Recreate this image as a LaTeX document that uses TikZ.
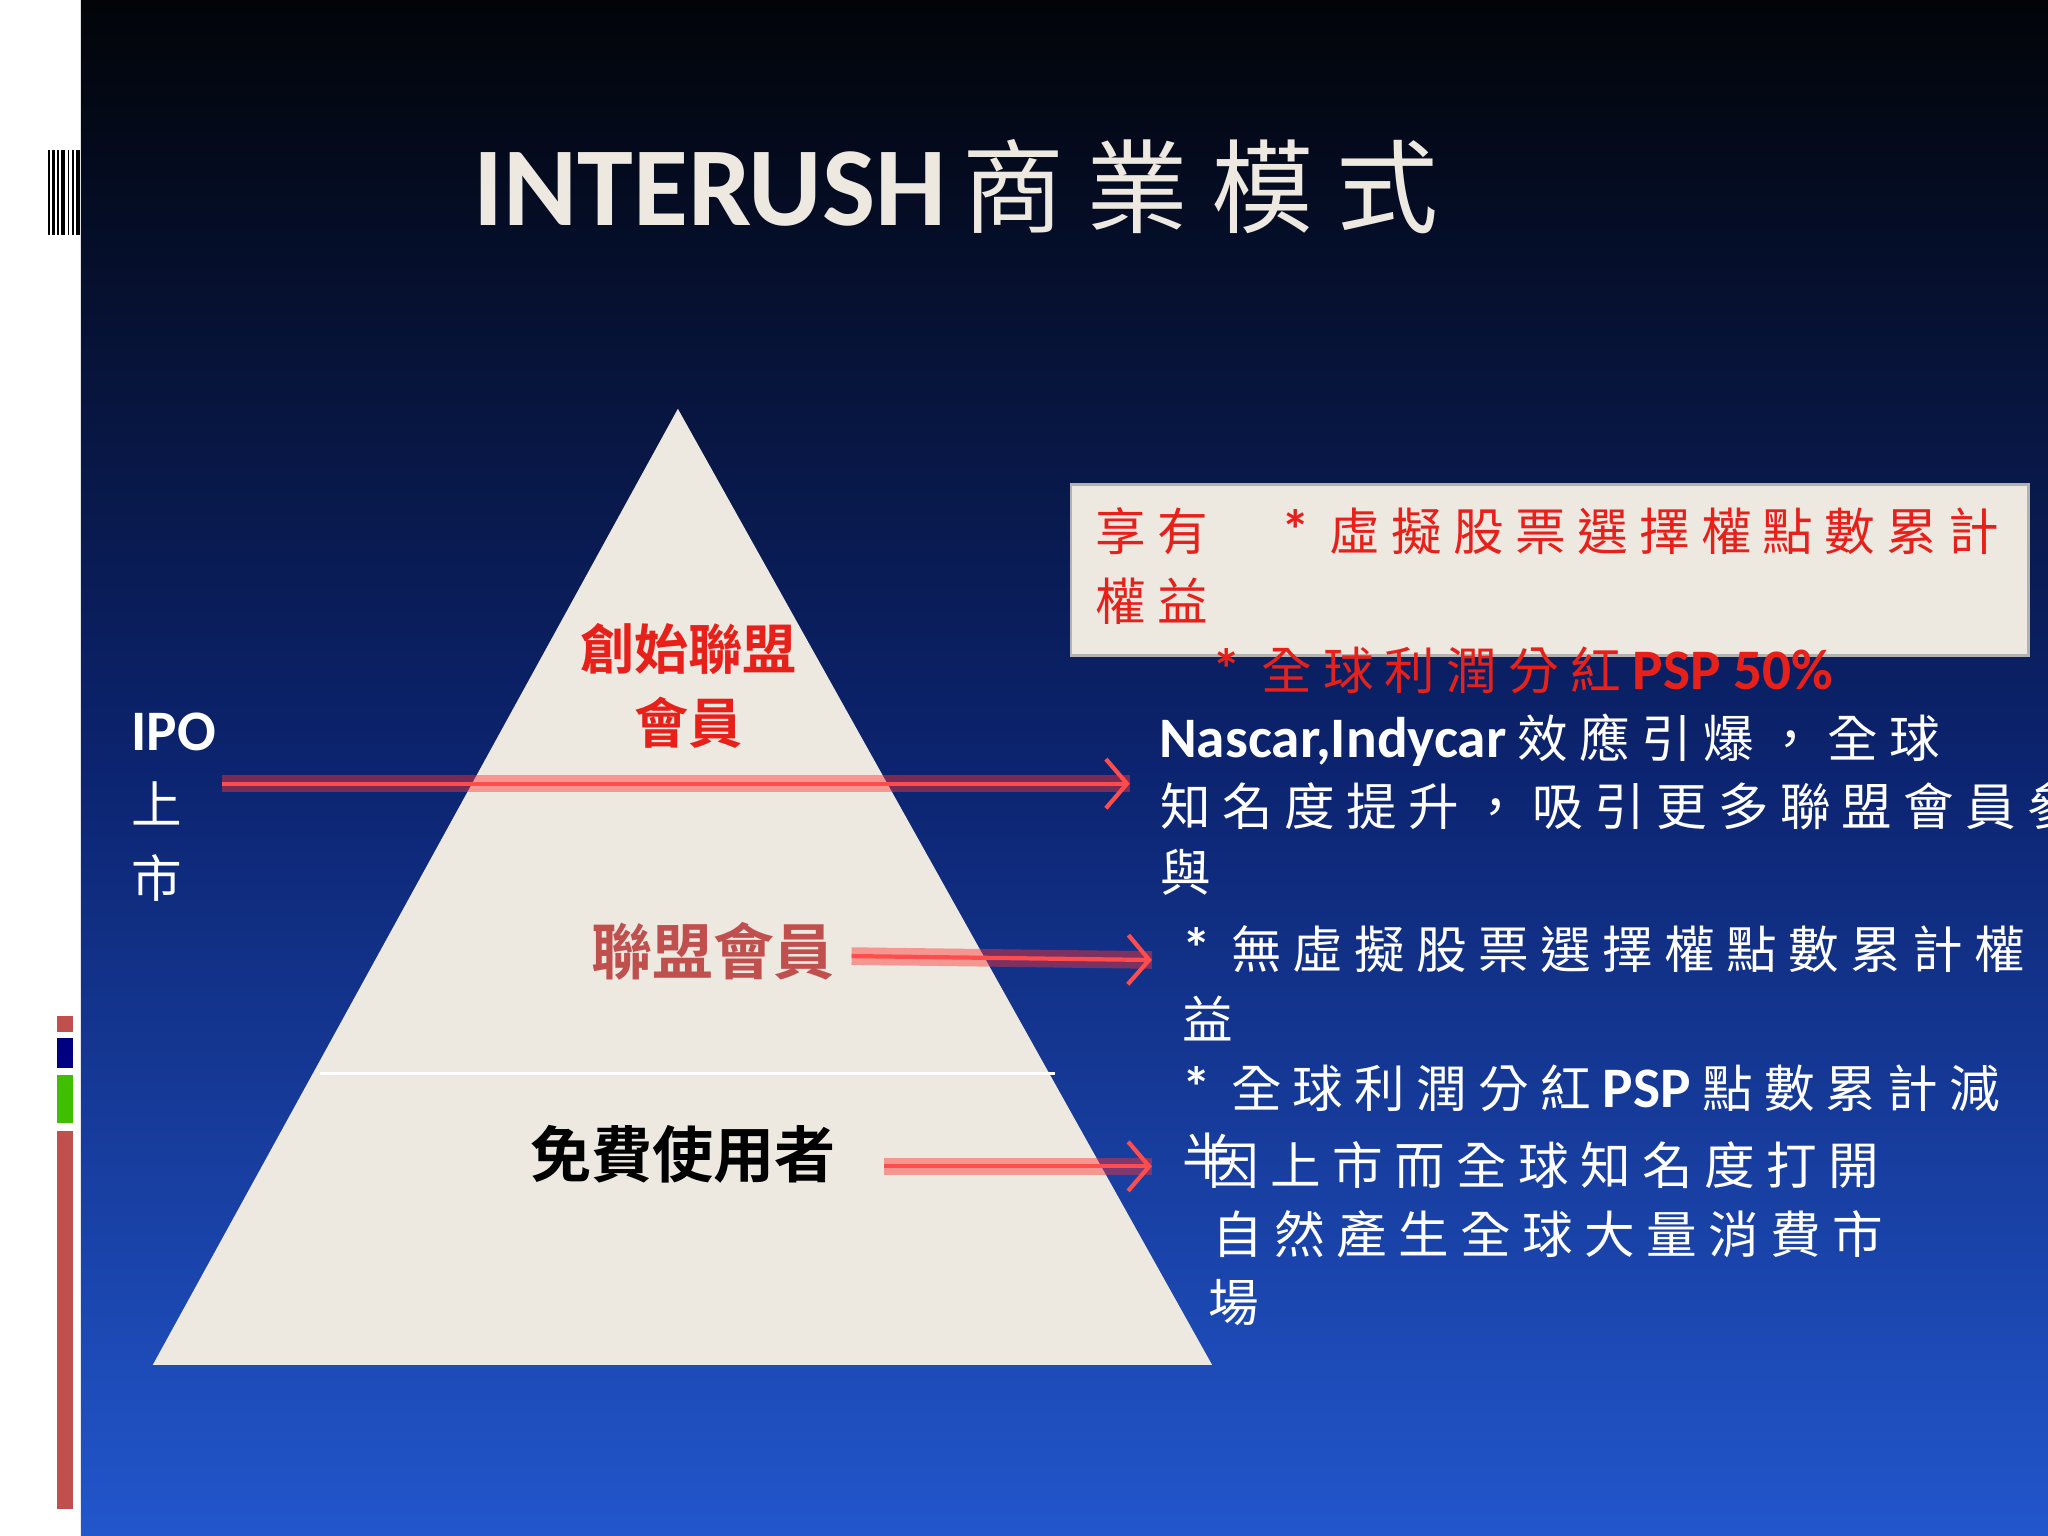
\documentclass[tikz,border=0pt]{standalone}
\usepackage{fontspec}
\newfontfamily\cjk{Noto Sans CJK TC}
\newfontfamily\cjkb{Noto Sans CJK TC Bold}
\newfontfamily\lat{Carlito}
\usetikzlibrary{arrows.meta}
\definecolor{pyr}{HTML}{EDE8E0}
\definecolor{redA}{HTML}{E8201A}
\definecolor{redB}{HTML}{C0504D}
\definecolor{bluetop}{HTML}{020408}
\definecolor{bluemid}{HTML}{0C2470}
\definecolor{bluebot}{HTML}{2256CC}
\newcommand{\LB}[1]{{\lat\bfseries\fontsize{16.3}{18}\selectfont #1}}
\tikzset{
 wtxt/.style={anchor=west,inner sep=0pt,text=white,font=\cjk\fontsize{14.4}{18}\selectfont},
 rtxt/.style={anchor=west,inner sep=0pt,text=redA,font=\cjk\fontsize{14.4}{18}\selectfont},
 glow/.style={line width=5pt,red!80,opacity=0.45},
 arr/.style={line width=1.2pt,{Straight Barb[length=6pt,width=14pt]}-,color=red!60!pink},
}
\begin{document}
\begin{tikzpicture}[x=0.01306cm,y=-0.01306cm]
\useasboundingbox (0,0) rectangle (1568,1176);
\clip (0,0) rectangle (1568,1176);
\fill[white] (0,0) rectangle (62,1176);
\shade[top color=bluetop,bottom color=bluebot,middle color=bluemid] (62,0) rectangle (1568,1176);
\foreach \x/\w in {37/1,40/2,44/1,47/3,52/1,55/2,58/3}{\fill[black] (\x,115) rectangle (\x+\w,180);}
\fill[redB] (44,778) rectangle (56,790);
\fill[blue!50!black] (44,795) rectangle (56,818);
\fill[green!50!olive] (44,823) rectangle (56,860);
\fill[redB] (44,866) rectangle (56,1155);
\node[anchor=west,inner sep=0pt,text=pyr] (title) at (362,143) {{\lat\bfseries\fontsize{32}{36}\selectfont INTERUSH}\hspace{0.45em}{\cjk\fontsize{29}{36}\selectfont 商 業 模 式}};
\fill[pyr] (519,313) coordinate (apex) -- (928,1045) coordinate (br) -- (117,1045) coordinate (bl) -- cycle;
\draw[white,line width=0.8pt] (245,822) -- (808,822);
\node[inner sep=0pt,text=redA,align=center,font=\cjkb\fontsize{15.4}{21}\selectfont] (t1) at (527,525) {創始聯盟\\會員};
\node[inner sep=0pt,text=redB,font=\cjkb\fontsize{17.3}{22}\selectfont] (t2) at (546,728) {聯盟會員};
\node[inner sep=0pt,text=black,font=\cjkb\fontsize{17.4}{22}\selectfont] (t3) at (523,884) {免費使用者};
\node[anchor=north west,inner sep=0pt,text=white,align=left,font=\cjk\fontsize{14.4}{21}\selectfont] (ipo) at (100,545) {\LB{IPO}\\上\\市};
\coordinate (a1s) at (170,600); \coordinate (a1e) at (865,600);
\coordinate (a2s) at (652,732); \coordinate (a2e) at (882,735);
\coordinate (a3s) at (677,893); \coordinate (a3e) at (882,893);
\foreach \s/\e in {a1s/a1e,a2s/a2e,a3s/a3e}{
 \draw[glow] (\s) -- (\e);
 \draw[arr] (\e) -- (\s);
}
\draw[fill=pyr,draw=gray!60,line width=0.8pt] (820,371) rectangle (1553,502);
\node[rtxt] (b1) at (838,407) {享 有 　 \LB{*}\, 虛 擬 股 票 選 擇 權 點 數 累 計};
\node[rtxt] (b2) at (838,460) {權 益};
\node[rtxt] (b3) at (928,513) {\LB{*}\, 全 球 利 潤 分 紅 \LB{PSP 50\%}};
\node[wtxt] (w1) at (887,567) {\LB{Nascar,Indycar} 效 應 引 爆 ， 全 球};
\node[wtxt] (w2) at (888,617) {知 名 度 提 升 ， 吸 引 更 多 聯 盟 會 員 參};
\node[wtxt] (w3) at (888,668) {與};
\node[wtxt] (w4) at (905,727) {\LB{*}\, 無 虛 擬 股 票 選 擇 權 點 數 累 計 權};
\node[wtxt] (w5) at (905,780) {益};
\node[wtxt] (w6) at (905,833) {\LB{*}\, 全 球 利 潤 分 紅 \LB{PSP} 點 數 累 計 減};
\node[wtxt] (w7) at (905,885) {半};
\node[wtxt] (w8) at (925,892) {因 上 市 而 全 球 知 名 度 打 開};
\node[wtxt] (w9) at (928,945) {自 然 產 生 全 球 大 量 消 費 市};
\node[wtxt] (w10) at (925,997) {場};
\end{tikzpicture}
\end{document}
